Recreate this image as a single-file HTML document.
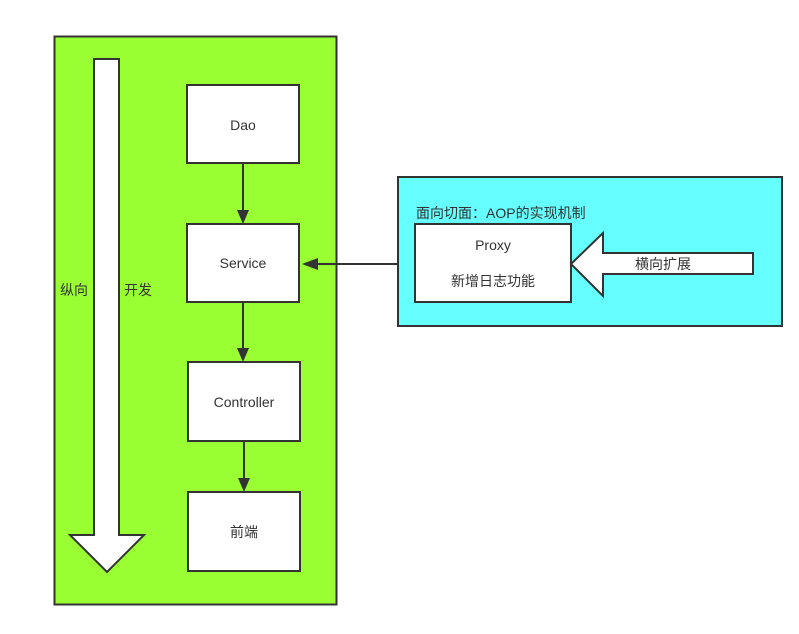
<!DOCTYPE html>
<html><head><meta charset="utf-8"><style>body{margin:0;background:#fff}svg{display:block}text{font-family:"Liberation Sans","Noto Sans CJK SC",sans-serif;font-size:14px;fill:#333}</style></head><body>
<svg width="799" height="634" viewBox="0 0 799 634">
<rect x="54.5" y="36.5" width="282" height="568" fill="#99ff33" stroke="#333" stroke-width="2"/>
<polygon points="94,59 119,59 119,535 144,535 107,572 70,535 94,535" fill="#fff" stroke="#333" stroke-width="2"/>
<text x="60" y="295">纵向</text><text x="124" y="295">开发</text>
<g fill="#fff" stroke="#333" stroke-width="2">
<rect x="187" y="85" width="112" height="78"/>
<rect x="187" y="224" width="112" height="78"/>
<rect x="188" y="362" width="112" height="79"/>
<rect x="188" y="492" width="112" height="79"/>
</g>
<g stroke="#333" stroke-width="2">
<line x1="243" y1="163" x2="243" y2="212"/><line x1="243" y1="302" x2="243" y2="350"/><line x1="244" y1="441" x2="244" y2="480"/>
<line x1="415" y1="264" x2="316" y2="264"/>
</g>
<g fill="#333">
<polygon points="237,210 249,210 243,224"/><polygon points="237,348 249,348 243,362"/><polygon points="238,478 250,478 244,492"/>
<polygon points="302,264 318,258 318,270"/>
</g>
<text x="243" y="130" text-anchor="middle">Dao</text>
<text x="243" y="268" text-anchor="middle">Service</text>
<text x="244" y="407" text-anchor="middle">Controller</text>
<text x="244" y="537" text-anchor="middle">前端</text>
<rect x="398" y="177" width="384" height="149" fill="#66ffff" stroke="#333" stroke-width="2"/>
<text x="416" y="218">面向切面：AOP的实现机制</text>
<rect x="415" y="224" width="156" height="78" fill="#fff" stroke="#333" stroke-width="2"/>
<text x="493" y="250" text-anchor="middle">Proxy</text>
<text x="493" y="286" text-anchor="middle">新增日志功能</text>
<polygon points="571,264 603,233 603,253 753,253 753,274 603,274 603,296" fill="#fff" stroke="#333" stroke-width="2"/>
<text x="663" y="269" text-anchor="middle">横向扩展</text>
</svg>
</body></html>
